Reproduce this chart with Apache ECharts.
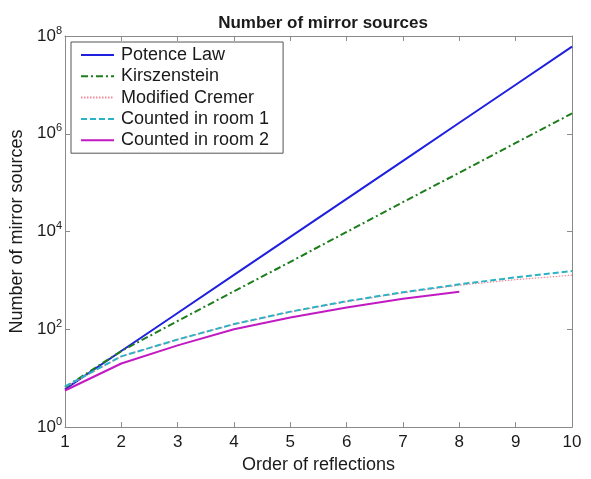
<!DOCTYPE html>
<html>
<head>
<meta charset="utf-8">
<script src="https://cdn.jsdelivr.net/npm/echarts@6/dist/echarts.min.js"></script>
<style>
html,body{margin:0;padding:0;background:#fff;}
#chart{width:591px;height:479px;}
</style>
</head>
<body>
<div id="chart"></div>
<script>
const orders = [1, 2, 3, 4, 5, 6, 7, 8, 9, 10];
const potenceLaw = [6, 36, 216, 1296, 7776, 46656, 279936, 1679616, 10077696, 60466176];
const kirszenstein = [6.5, 36, 148, 600, 2400, 9800, 40000, 160000, 650000, 2600000];
const modifiedCremer = [6.5, 28, 62, 126, 226, 368, 558, 800, 1040, 1280];
const countedRoom1 = [6.8, 28, 62, 128, 230, 376, 574, 832, 1158, 1560];
const countedRoom2 = [5.6, 20, 47, 100, 175, 280, 420, 585];
const seriesNames = ['Potence Law', 'Kirszenstein', 'Modified Cremer', 'Counted in room 1', 'Counted in room 2'];

function pairs(vals) { return vals.map((v, i) => [orders[i], v]); }

const textColor = '#1a1a1a';
const frameColor = '#8a8a8a';
const font = 'Liberation Sans, Arial, sans-serif';

const chart = echarts.init(document.getElementById('chart'), null, {renderer: 'canvas'});

const xBase = {
  type: 'value', min: 1, max: 10, interval: 1,
  axisLine: {show: true, lineStyle: {color: frameColor, width: 1}},
  axisTick: {show: true, inside: true, length: 5, lineStyle: {color: frameColor}},
  splitLine: {show: false}
};
const yBase = {
  type: 'log', logBase: 10, min: 1, max: 1e8, interval: 2,
  axisLine: {show: true, lineStyle: {color: frameColor, width: 1}},
  axisTick: {show: true, inside: true, length: 5, lineStyle: {color: frameColor}},
  splitLine: {show: false}
};

chart.setOption({
  animation: false,
  backgroundColor: '#fff',
  textStyle: {fontFamily: font},
  title: {
    text: 'Number of mirror sources',
    left: 318, top: 10, textAlign: 'center',
    textStyle: {fontSize: 17, fontWeight: 'bold', color: textColor, fontFamily: font}
  },
  grid: {left: 65, right: 19, top: 36, bottom: 43, containLabel: false},
  legend: {
    orient: 'vertical', left: 71, top: 42,
    padding: [4, 14, 4, 9],
    itemWidth: 33, itemHeight: 14, itemGap: 3.3,
    borderColor: '#555', borderWidth: 1, backgroundColor: '#fff',
    itemStyle: {opacity: 0},
    textStyle: {fontSize: 18, color: textColor, fontFamily: font, padding: [0, 0, 0, 2]},
    data: seriesNames
  },
  xAxis: [
    Object.assign({}, xBase, {
      position: 'bottom',
      name: 'Order of reflections', nameLocation: 'middle', nameGap: 23,
      nameTextStyle: {fontSize: 18, color: textColor, fontFamily: font},
      axisLabel: {show: true, margin: 7, fontSize: 17, color: textColor, fontFamily: font}
    }),
    Object.assign({}, xBase, {position: 'top', axisLabel: {show: false}})
  ],
  yAxis: [
    Object.assign({}, yBase, {
      position: 'left',
      name: 'Number of mirror sources', nameLocation: 'middle', nameGap: 34,
      nameTextStyle: {fontSize: 18, color: textColor, fontFamily: font},
      axisLabel: {
        show: true, margin: 3,
        formatter: function (v) {
          const e = Math.round(Math.log10(v));
          return '{b|10}{s|' + e + '}';
        },
        rich: {
          b: {fontSize: 17, lineHeight: 22, color: textColor, fontFamily: font},
          s: {fontSize: 11, lineHeight: 11, verticalAlign: 'top', color: textColor, fontFamily: font}
        }
      }
    }),
    Object.assign({}, yBase, {position: 'right', axisLabel: {show: false}})
  ],
  series: [
    {name: seriesNames[0], type: 'line', symbol: 'none', data: pairs(potenceLaw),
     lineStyle: {color: '#1f1fe0', width: 2, type: 'solid'}, itemStyle: {color: '#1f1fe0'}},
    {name: seriesNames[1], type: 'line', symbol: 'none', data: pairs(kirszenstein),
     lineStyle: {color: '#1d7d1d', width: 2, type: [7, 3, 2, 3]}, itemStyle: {color: '#1d7d1d'}},
    {name: seriesNames[2], type: 'line', symbol: 'none', data: pairs(modifiedCremer),
     lineStyle: {color: '#f08a9a', width: 1.2, type: [1.5, 1.5]}, itemStyle: {color: '#f08a9a'}},
    {name: seriesNames[3], type: 'line', symbol: 'none', data: pairs(countedRoom1),
     lineStyle: {color: '#2ab3c4', width: 2, type: [6, 3]}, itemStyle: {color: '#2ab3c4'}},
    {name: seriesNames[4], type: 'line', symbol: 'none', data: pairs(countedRoom2),
     lineStyle: {color: '#c21ac2', width: 2, type: 'solid'}, itemStyle: {color: '#c21ac2'}}
  ]
});
</script>
</body>
</html>
